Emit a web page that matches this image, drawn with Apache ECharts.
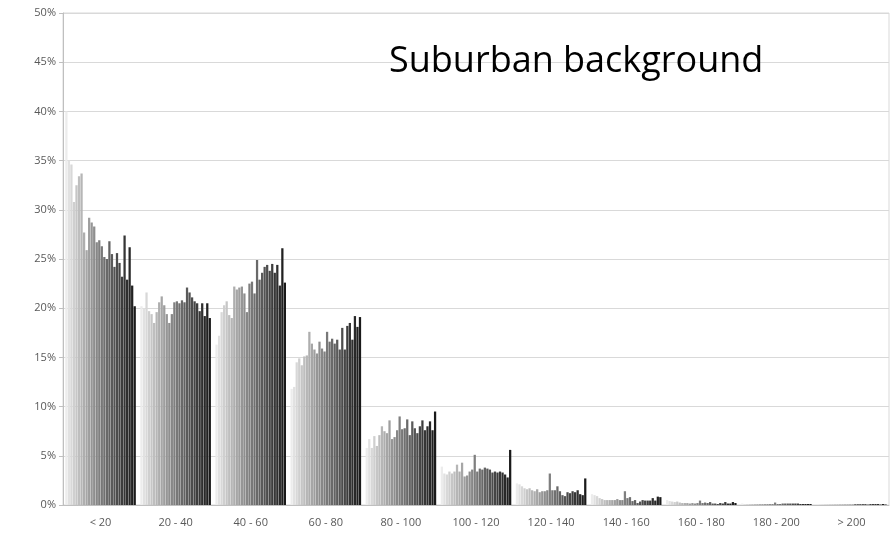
<!DOCTYPE html>
<html>
<head>
<meta charset="utf-8">
<script src="https://cdn.jsdelivr.net/npm/echarts@6/dist/echarts.min.js"></script>
<style>
html,body{margin:0;padding:0;background:#fff;}
#chart{width:892px;height:537px;}
</style>
</head>
<body>
<div id="chart"></div>
<script>
// Categories (speed/size classes)
var categories = ['< 20', '20 - 40', '40 - 60', '60 - 80', '80 - 100', '100 - 120', '120 - 140', '140 - 160', '160 - 180', '180 - 200', '> 200'];

// Values (%) for each category, one per series (28 series, light -> dark)
var vLt20    = [40.0, 35.0, 34.6, 30.8, 32.5, 33.4, 33.7, 27.7, 25.9, 29.2, 28.7, 28.3, 26.7, 26.9, 26.3, 25.2, 25.0, 26.8, 25.5, 24.2, 25.6, 24.6, 23.2, 27.4, 22.9, 26.2, 22.3, 20.2];
var v20_40   = [20.2, 20.0, 21.6, 19.7, 19.4, 18.5, 19.6, 20.6, 21.2, 20.3, 19.4, 18.5, 19.4, 20.6, 20.7, 20.5, 20.8, 20.6, 22.1, 21.6, 21.1, 20.7, 20.5, 19.7, 20.5, 19.2, 20.5, 19.0];
var v40_60   = [16.3, 17.2, 19.6, 20.3, 20.7, 19.3, 19.0, 22.2, 21.9, 22.1, 22.2, 21.5, 19.6, 22.5, 22.7, 21.5, 24.9, 22.9, 23.6, 24.2, 24.4, 23.8, 24.5, 23.6, 24.4, 22.3, 26.1, 22.6];
var v60_80   = [11.8, 12.0, 14.5, 14.9, 14.2, 15.1, 15.2, 17.6, 16.4, 15.8, 15.4, 16.6, 15.9, 15.6, 17.6, 16.6, 16.9, 16.4, 16.8, 15.8, 18.0, 15.8, 18.2, 18.5, 16.8, 19.2, 18.1, 19.1];
var v80_100  = [5.8, 6.7, 5.8, 7.0, 6.0, 7.1, 8.0, 7.5, 7.3, 8.6, 6.7, 6.9, 7.6, 9.0, 7.7, 7.8, 8.7, 7.1, 8.5, 7.8, 7.3, 8.0, 8.6, 7.6, 8.0, 8.5, 7.6, 9.5];
var v100_120 = [3.9, 3.2, 3.1, 3.4, 3.2, 3.4, 4.1, 3.4, 4.3, 2.9, 3.0, 3.4, 3.6, 5.1, 3.4, 3.7, 3.6, 3.8, 3.7, 3.6, 3.3, 3.4, 3.3, 3.4, 3.3, 3.1, 2.8, 5.6];
var v120_140 = [2.2, 2.1, 1.9, 1.7, 1.6, 1.7, 1.5, 1.4, 1.6, 1.3, 1.4, 1.4, 1.5, 3.2, 1.5, 1.5, 1.9, 1.4, 1.0, 0.9, 1.3, 1.2, 1.4, 1.3, 1.5, 1.1, 1.0, 2.7];
var v140_160 = [1.1, 1.0, 0.9, 0.7, 0.6, 0.5, 0.5, 0.5, 0.5, 0.5, 0.6, 0.5, 0.5, 1.4, 0.7, 0.8, 0.4, 0.5, 0.2, 0.35, 0.5, 0.45, 0.45, 0.45, 0.7, 0.45, 0.85, 0.8];
var v160_180 = [0.5, 0.4, 0.35, 0.3, 0.35, 0.25, 0.2, 0.2, 0.2, 0.15, 0.2, 0.15, 0.2, 0.45, 0.2, 0.25, 0.2, 0.3, 0.15, 0.15, 0.1, 0.2, 0.15, 0.3, 0.15, 0.15, 0.3, 0.2];
var v180_200 = [0.15, 0.1, 0.1, 0.1, 0.1, 0.1, 0.1, 0.1, 0.1, 0.1, 0.1, 0.1, 0.1, 0.25, 0.1, 0.1, 0.15, 0.15, 0.15, 0.15, 0.15, 0.15, 0.15, 0.1, 0.1, 0.1, 0.1, 0.1];
var vGt200   = [0.1, 0.05, 0.05, 0.05, 0.05, 0.05, 0.05, 0.05, 0.05, 0.05, 0.05, 0.05, 0.05, 0.05, 0.05, 0.1, 0.1, 0.1, 0.1, 0.1, 0.05, 0.1, 0.1, 0.1, 0.1, 0.05, 0.1, 0.05];

// Y axis tick settings
var yMin = 0, yMax = 50, yStep = 5;

var table = [vLt20, v20_40, v40_60, v60_80, v80_100, v100_120, v120_140, v140_160, v160_180, v180_200, vGt200];
var nSeries = vLt20.length;

// grayscale ramp light -> dark
function grey(i) {
  var t = i / (nSeries - 1);
  var v = Math.round(236 - Math.pow(t, 0.9) * 210);
  var h = v.toString(16); if (h.length < 2) h = '0' + h;
  return '#' + h + h + h;
}

var series = [];
for (var s = 0; s < nSeries; s++) {
  series.push({
    name: 'Series ' + (s + 1),
    type: 'bar',
    barGap: '12%',
    barCategoryGap: '6%',
    data: table.map(function (row) { return row[s]; }),
    itemStyle: { color: grey(s) },
    emphasis: { disabled: true },
    animation: false
  });
}

var chart = echarts.init(document.getElementById('chart'), null, { renderer: 'canvas' });
chart.setOption({
  animation: false,
  title: {
    text: 'Suburban background',
    left: 384, top: 39,
    textStyle: { fontFamily: 'Open Sans', fontSize: 36, fontWeight: 'normal', color: '#000' }
  },
  grid: {
    left: 63, right: 3, top: 13, bottom: 32,
    show: true, borderColor: '#d9d9d9', borderWidth: 1, containLabel: false
  },
  xAxis: {
    type: 'category',
    data: categories,
    axisLine: { show: true, lineStyle: { color: '#bfbfbf' } },
    axisTick: { show: false },
    axisLabel: { color: '#595959', fontFamily: 'Open Sans', fontSize: 11, margin: 12 }
  },
  yAxis: {
    type: 'value',
    min: yMin, max: yMax, interval: yStep,
    axisLine: { show: true, lineStyle: { color: '#bfbfbf' } },
    axisTick: { show: true, length: 4, lineStyle: { color: '#bfbfbf' } },
    splitLine: { lineStyle: { color: '#d9d9d9' } },
    axisLabel: { formatter: '{value}%', color: '#595959', fontFamily: 'Open Sans', fontSize: 11, margin: 7 }
  },
  series: series
});
</script>
</body>
</html>
